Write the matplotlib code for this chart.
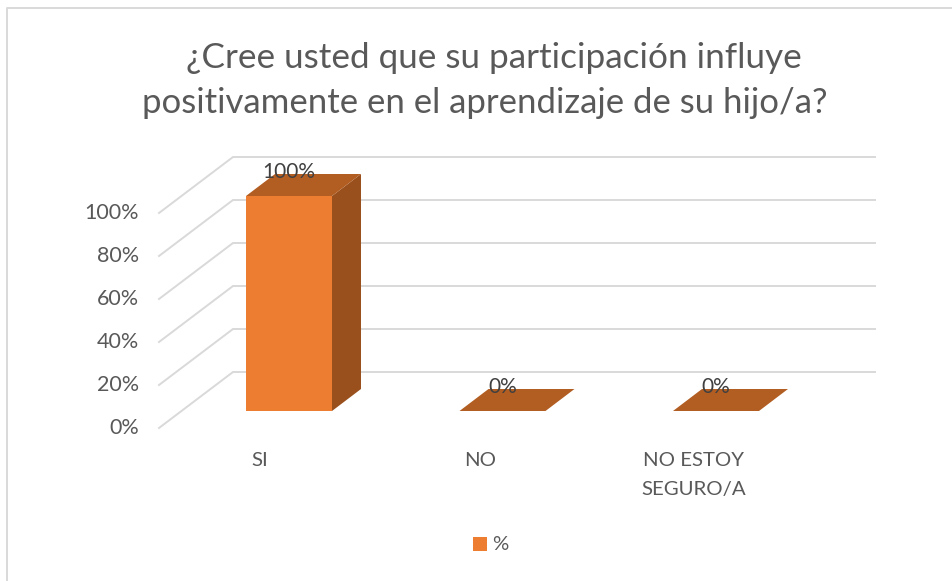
import numpy as np
import matplotlib.pyplot as plt
from matplotlib.patches import Polygon, Rectangle

plt.rcParams['font.family'] = ['Lato', 'DejaVu Sans']

categories = ['SI', 'NO', 'NO ESTOY\nSEGURO/A']
values = [100, 0, 0]
value_ticks = [0, 20, 40, 60, 80, 100]
title_lines = ['¿Cree usted que su participación influye',
               'positivamente en el aprendizaje de su hijo/a?']
series_name = '%'

W, H = 953, 581
px_x = 213.5      # pixels for one category
px_y = 2.15       # pixels for one percent
x0, y0 = 289, 411  # where category 0, value 0 sits on the bar front plane

face = '#ed7d31'
top = '#b25d22'
side = '#99501c'
grid = '#d9d9d9'
text_col = '#595959'
label_col = '#404040'

fig = plt.figure(figsize=(W / 100, H / 100), dpi=100)
ax = fig.add_axes([0, 0, 1, 1])
ax.set_xlim(-x0 / px_x, (W - x0) / px_x)
ax.set_ylim((y0 - H) / px_y, y0 / px_y)
ax.axis('off')

bar_w = 86 / px_x
dep_x, dep_y = 29 / px_x, 22 / px_y
# floor offset of the walls relative to bar plane
wall_front = (-130 / px_x, -17 / px_y)
wall_back = (-56 / px_x, 39 / px_y)
right_x = (875 - x0) / px_x

# gridlines
for v in value_ticks:
    xf, yf = wall_front[0], v + wall_front[1]
    xb, yb = wall_back[0], v + wall_back[1]
    ax.plot([xf, xb, right_x], [yf, yb, yb], color=grid, lw=1.4, zorder=1,
            solid_joinstyle='miter')
    ax.text(xf - 20 / px_x, yf, f'{v}%', ha='right', va='center', fontsize=15.5, color=text_col)

# bars
for i, v in enumerate(values):
    l = i - bar_w / 2
    r = i + bar_w / 2
    if v > 0:
        ax.add_patch(Rectangle((l, 0), bar_w, v, fc=face, ec='none', zorder=3))
        ax.add_patch(Polygon([(r, 0), (r + dep_x, dep_y), (r + dep_x, v + dep_y), (r, v)],
                             fc=side, ec='none', zorder=3))
    ax.add_patch(Polygon([(l, v), (r, v), (r + dep_x, v + dep_y), (l + dep_x, v + dep_y)],
                         fc=top, ec='none', zorder=3))
    ax.text(i, v + 11, f'{v}%', ha='center', va='center', fontsize=15,
            color=label_col, zorder=4)

# category labels
label_shift = [-29, -22, -22]
for i, c in enumerate(categories):
    ax.text(i + label_shift[i] / px_x, -19, c, ha='center', va='top', fontsize=14.7,
            color=text_col, linespacing=1.85)

fig.text(494 / W, 1 - 58 / H, title_lines[0], ha='center', va='center', fontsize=25.3, color=text_col)
fig.text(485 / W, 1 - 103 / H, title_lines[1], ha='center', va='center', fontsize=25, color=text_col)

# legend
fig.patches.append(Rectangle((473 / W, 1 - 551 / H), 14 / W, 14 / H, transform=fig.transFigure,
                             fc=face, ec='none'))
fig.text(492 / W, 1 - 545 / H, series_name, ha='left', va='center', fontsize=14.7, color=text_col)

# chart border
fig.add_artist(plt.Line2D([6.5 / W, 6.5 / W, 1], [0, 1 - 7.5 / H, 1 - 7.5 / H],
                          color=grid, lw=1.4, transform=fig.transFigure))

fig.savefig('out.png', dpi=100)
